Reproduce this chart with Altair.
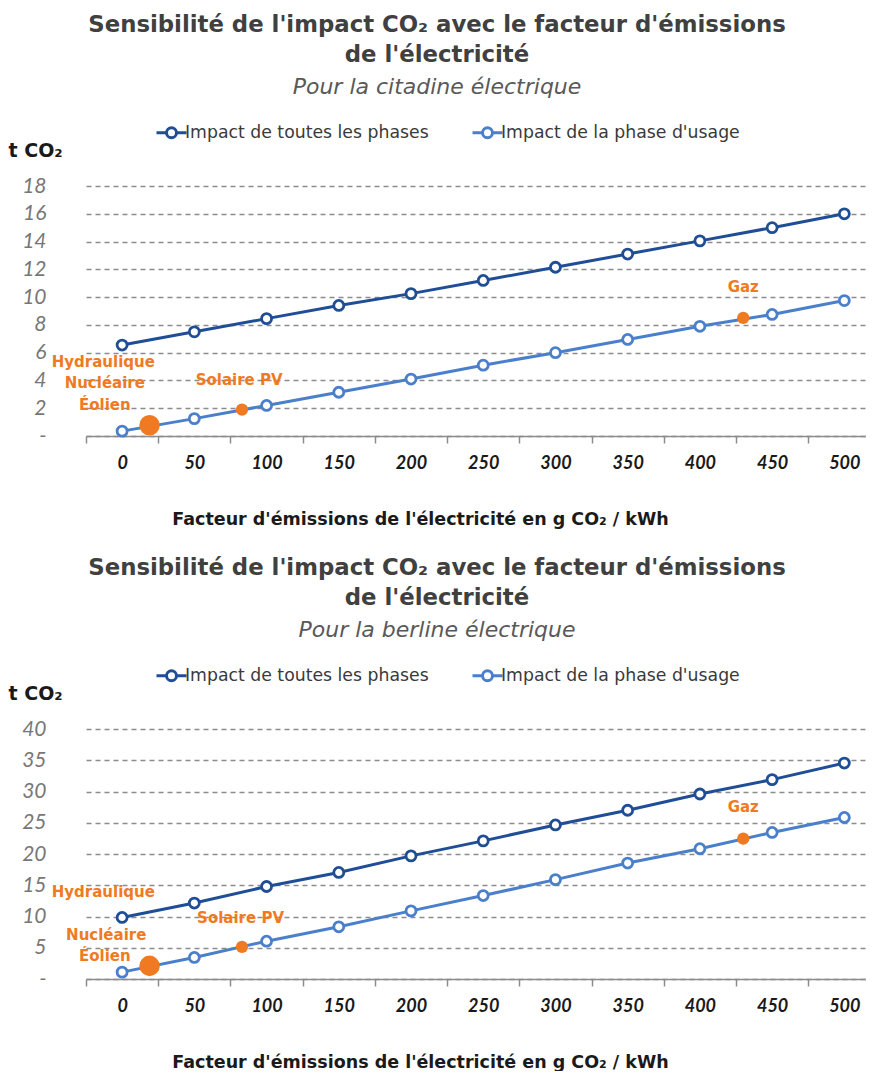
import altair as alt
import pandas as pd

# ---------------- data ----------------
factors = [0, 50, 100, 150, 200, 250, 300, 350, 400, 450, 500]
series_names = ["Impact de toutes les phases", "Impact de la phase d'usage"]

cit_total = [6.55, 7.5, 8.45, 9.4, 10.25, 11.2, 12.15, 13.1, 14.05, 15.0, 16.0]
cit_usage = [0.35, 1.25, 2.2, 3.15, 4.1, 5.1, 6.0, 6.95, 7.9, 8.75, 9.75]
ber_total = [9.85, 12.15, 14.8, 17.05, 19.7, 22.1, 24.65, 27.0, 29.6, 31.9, 34.55]
ber_usage = [1.1, 3.45, 6.05, 8.35, 10.9, 13.35, 15.9, 18.55, 20.85, 23.45, 25.85]

source_group = ["bas carbone", "Solaire PV", "Gaz"]
source_factor = [19, 83, 430]
cit_source_impact = [0.77, 1.9, 8.5]
ber_source_impact = [2.1, 5.15, 22.45]

label_text = ["Hydraulique", "Nucléaire", "Éolien", "Solaire PV", "Gaz"]
cit_label_x = [-13, -12, -12, 81, 430]
cit_label_y = [5.33, 3.82, 2.23, 4.03, 10.73]
ber_label_x = [-13, -11, -12, 82, 430]
ber_label_y = [13.97, 7.09, 3.73, 9.8, 27.6]

# band boundaries of the category axis (ticks between categories)
boundaries = [f - 25 for f in factors]

TITLE_L1 = "Sensibilité de l'impact CO₂ avec le facteur d'émissions"
TITLE_L2 = "de l'électricité"
X_TITLE = "Facteur d'émissions de l'électricité en g CO₂ / kWh"

DARK = "#1F4E96"
LIGHT = "#4A7FCC"
ORANGE = "#F07A22"
GRID = "#8C8C8C"
FONT = "DejaVu Sans"
NUMFONT = "Lato"

legend_path = ("M-1.5,0 L-0.5,0 M0.5,0 L1.5,0 "
               "M-0.5,0 A0.5,0.5 0 1,1 0.5,0 A0.5,0.5 0 1,1 -0.5,0 Z")


def panel(total, usage, src_impact, lab_x, lab_y, ymax, ystep, subtitle):
    df = pd.DataFrame({
        "facteur": factors * 2,
        "impact": total + usage,
        "serie": [series_names[0]] * len(factors) + [series_names[1]] * len(factors),
    })
    src = pd.DataFrame({"groupe": source_group, "facteur": source_factor, "impact": src_impact})
    labs = pd.DataFrame({"texte": label_text, "facteur": lab_x, "impact": lab_y})

    xscale = alt.Scale(domain=[-25, 515], nice=False, zero=False)
    x_ticks = alt.X("facteur:Q", scale=xscale, axis=alt.Axis(
        orient="bottom", values=boundaries, labels=False, ticks=True, tickSize=7,
        tickColor=GRID, tickWidth=1.5, domain=True, domainColor=GRID, domainWidth=1.5,
        grid=False, title=None))
    x_labels = alt.X("facteur:Q", scale=xscale, axis=alt.Axis(
        orient="bottom", values=factors, ticks=False, domain=False, grid=False,
        labelPadding=18,
        labelFont=NUMFONT, labelFontSize=18, labelFontWeight="bold", labelFontStyle="italic",
        labelColor="#1a1a1a", labelBaseline="top",
        title=X_TITLE, titleFont=FONT, titleFontSize=17.5, titleFontWeight="bold",
        titleColor="#1a1a1a", titlePadding=38, titleX=334, titleAlign="center"))
    x_plain = alt.X("facteur:Q", scale=xscale, axis=None)

    y = alt.Y("impact:Q", scale=alt.Scale(domain=[0, ymax], nice=False), axis=alt.Axis(
        values=list(range(0, ymax + 1, ystep)),
        labelExpr="datum.value == 0 ? '-' : datum.label",
        grid=True, gridDash=[5, 4], gridColor=GRID, gridWidth=1.5,
        domain=False, ticks=False, labelPadding=40,
        labelFont=NUMFONT, labelFontSize=21, labelFontStyle="italic", labelColor="#777777",
        title="t CO₂", titleAngle=0, titleX=-78, titleY=-36, titleAlign="left",
        titleBaseline="middle", titleFont=FONT, titleFontSize=19, titleFontWeight="bold",
        titleColor="#1a1a1a"))

    color = alt.Color("serie:N", scale=alt.Scale(domain=series_names, range=[DARK, LIGHT]),
                      legend=alt.Legend(
                          orient="none", legendX=74, legendY=-65, direction="horizontal",
                          title=None, symbolType=legend_path, symbolSize=400,
                          symbolStrokeWidth=3, labelFont=FONT, labelFontSize=17.3,
                          labelColor="#3a3a3a", columnPadding=37, labelOffset=2,
                          labelLimit=0))

    lines = alt.Chart(df).mark_line(strokeWidth=3).encode(x=x_ticks, y=y, color=color)
    pts = alt.Chart(df).mark_point(filled=False, fill="white", fillOpacity=1, size=100,
                                   strokeWidth=2.8, opacity=1).encode(
        x=x_labels, y=y, color=color)
    big = alt.Chart(src).transform_filter(alt.datum.groupe == "bas carbone").mark_circle(
        color=ORANGE, size=420, opacity=1).encode(x=x_plain, y=y)
    small = alt.Chart(src).transform_filter(alt.datum.groupe != "bas carbone").mark_circle(
        color=ORANGE, size=150, opacity=1).encode(x=x_plain, y=y)
    texts = alt.Chart(labs).mark_text(font=FONT, fontSize=15, fontWeight="bold",
                                      color=ORANGE, align="center", baseline="middle").encode(
        x=x_plain, y=y, text="texte:N")

    return alt.layer(lines, pts, big, small, texts).resolve_axis(x="independent").properties(
        width=780, height=250,
        title=alt.TitleParams(
            text=[TITLE_L1, TITLE_L2], subtitle=subtitle, anchor="middle", frame="bounds",
            font=FONT, fontSize=22.8, fontWeight="bold", color="#404040", lineHeight=30,
            subtitleFont=FONT, subtitleFontSize=22, subtitleFontStyle="italic",
            subtitleColor="#595959", subtitlePadding=10, offset=23))


c1 = panel(cit_total, cit_usage, cit_source_impact, cit_label_x, cit_label_y, 18, 2,
           "Pour la citadine électrique")
c2 = panel(ber_total, ber_usage, ber_source_impact, ber_label_x, ber_label_y, 40, 5,
           "Pour la berline électrique")

chart = alt.vconcat(c1, c2, spacing=29).resolve_scale(
    x="independent", y="independent", color="independent").resolve_legend(
    color="independent").properties(padding={"left": 0, "top": 6, "right": 0, "bottom": 0}).configure_view(
    stroke=None)

chart.save("out.html", embed_options={"renderer": "svg", "actions": False})
